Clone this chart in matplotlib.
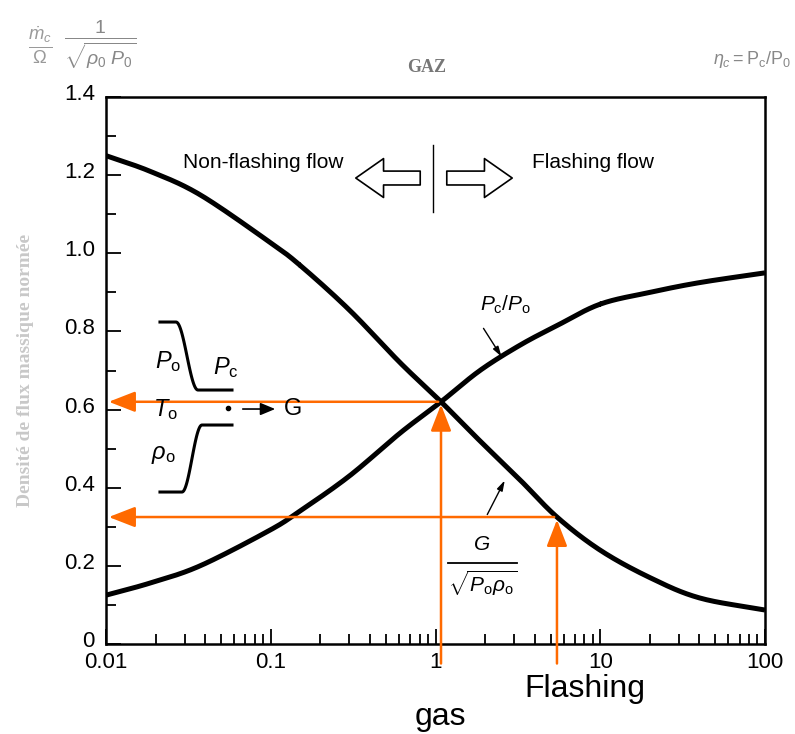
import numpy as np
import matplotlib
matplotlib.use("Agg")
import matplotlib.pyplot as plt
import matplotlib.transforms as mtransforms
from matplotlib.ticker import FixedLocator, NullFormatter

plt.rcParams['font.family'] = ['Liberation Sans', 'DejaVu Sans']
plt.rcParams['mathtext.fontset'] = 'custom'
plt.rcParams['mathtext.rm'] = 'Liberation Sans'
plt.rcParams['mathtext.it'] = 'Liberation Sans:italic'

# pressure ratio axis (log) and the two normalised curves
x_vals = [0.01, 0.0185, 0.0372, 0.0975, 0.15, 0.30, 0.61, 1.08, 1.86, 3.26, 5.46, 10, 20, 40, 100]
g_flux = [1.25, 1.21, 1.15, 1.03, 0.97, 0.855, 0.72, 0.62, 0.52, 0.42, 0.325, 0.24, 0.17, 0.118, 0.087]
pc_ratio = [0.125, 0.156, 0.20, 0.29, 0.34, 0.43, 0.54, 0.62, 0.70, 0.765, 0.815, 0.87, 0.90, 0.925, 0.95]

# orange read-off points: (x, y) for the gas case and the flashing case
gas_pt = (1.08, 0.62)
flash_pt = (5.46, 0.325)

x_ticks = [0.01, 0.1, 1, 10, 100]
x_ticklabels = ['0.01', '0.1', '1', '10', '100']
y_ticks = [0, 0.2, 0.4, 0.6, 0.8, 1.0, 1.2, 1.4]
y_ticklabels = ['0', '0.2', '0.4', '0.6', '0.8', '1.0', '1.2', '1.4']

orange = '#ff6a00'
gray = '#9a9a9a'

fig = plt.figure(figsize=(7.95, 7.34), dpi=100)
ax = fig.add_axes([0.1333, 0.1226, 0.829, 0.7452])


def smooth(xs, ys, n=400):
    # Catmull-Rom through the read points, in log-x, only to round the drawn line
    lx = np.log10(xs)
    ys = np.asarray(ys, float)
    P = np.column_stack([lx, ys])
    P = np.vstack([2 * P[0] - P[1], P, 2 * P[-1] - P[-2]])
    out = []
    for i in range(1, len(P) - 2):
        t = np.linspace(0, 1, n // len(xs))[:, None]
        p0, p1, p2, p3 = P[i - 1], P[i], P[i + 1], P[i + 2]
        out.append(0.5 * ((2 * p1) + (-p0 + p2) * t + (2 * p0 - 5 * p1 + 4 * p2 - p3) * t ** 2
                          + (-p0 + 3 * p1 - 3 * p2 + p3) * t ** 3))
    out = np.vstack(out)
    return 10 ** out[:, 0], out[:, 1]


for series in (g_flux, pc_ratio):
    sx, sy = smooth(x_vals, series)
    ax.plot(sx, sy, color='black', lw=3.6, solid_capstyle='butt')

ax.set_xscale('log')
ax.set_xlim(0.01, 100)
ax.set_ylim(0, 1.4)
ax.xaxis.set_major_locator(FixedLocator(x_ticks))
ax.set_xticklabels(x_ticklabels)
ax.xaxis.set_minor_locator(FixedLocator([m * 10.0 ** e for e in range(-2, 2) for m in range(2, 10)]))
ax.xaxis.set_minor_formatter(NullFormatter())
ax.set_yticks(y_ticks)
ax.set_yticklabels(y_ticklabels)
ax.yaxis.set_minor_locator(FixedLocator(np.arange(0.1, 1.4, 0.2)))
ax.tick_params(which='both', direction='in', top=False, right=False, width=1.3, labelsize=16)
ax.tick_params(axis='x', which='major', length=11, pad=6)
ax.tick_params(axis='y', which='major', length=11, pad=8)
ax.tick_params(which='minor', length=7)
for s in ax.spines.values():
    s.set_linewidth(1.8)
# y labels sit a little above their ticks in the scan
shift_up = mtransforms.ScaledTranslation(0, 5 / 100, fig.dpi_scale_trans)
for lab in ax.get_yticklabels():
    lab.set_transform(lab.get_transform() + shift_up)

# orange read-off arrows
arrow_kw = dict(arrowstyle='-|>,head_length=0.9,head_width=0.35', color=orange, lw=1.8, mutation_scale=18)
for (xp, yp) in (gas_pt, flash_pt):
    ax.annotate('', xy=(0.01, yp), xytext=(xp, yp), arrowprops=arrow_kw, annotation_clip=False)
    ax.annotate('', xy=(xp, yp), xycoords='data', xytext=(xp, -0.057), textcoords='data',
                arrowprops=arrow_kw, annotation_clip=False)


def px(x, y):
    # pixel position in the figure -> axes fraction
    return (x - 106) / 659.0, (644 - y) / 547.0


T = ax.transAxes

# flow regime divider and hollow arrows
ax.plot(*zip(px(433, 145), px(433, 212)), color='black', lw=1.0, transform=T)
hollow = dict(arrowstyle='simple,head_length=1.0,head_width=1.4,tail_width=0.5', fc='white', ec='black', lw=1.2, mutation_scale=20)
ax.annotate('', xy=px(353, 178), xytext=px(423, 178), xycoords=T, textcoords=T, arrowprops=hollow)
ax.annotate('', xy=px(515, 178), xytext=px(444, 178), xycoords=T, textcoords=T, arrowprops=hollow)
ax.text(*px(263, 162), 'Non-flashing flow', transform=T, fontsize=15, ha='center', va='center')
ax.text(*px(593, 162), 'Flashing flow', transform=T, fontsize=15, ha='center', va='center')

# nozzle sketch
t = np.linspace(0, 1, 40)
s = 0.5 - 0.5 * np.cos(np.pi * t)
up_x = np.concatenate([[160], 176 + 22 * t, [232]])
up_y = np.concatenate([[322], 322 + 68 * s, [390]])
lo_x = np.concatenate([[232], 202 - 20 * t, [160]])
lo_y = np.concatenate([[425], 425 + 67 * s, [492]])
for xs, ys in ((up_x, up_y), (lo_x, lo_y)):
    pts = [px(a, b) for a, b in zip(xs, ys)]
    ax.plot([p[0] for p in pts], [p[1] for p in pts], color='black', lw=2.2, transform=T)
ax.text(*px(168, 362), r'$P_\mathrm{o}$', transform=T, fontsize=17, ha='center', va='center')
ax.text(*px(226, 368), r'$P_\mathrm{c}$', transform=T, fontsize=17, ha='center', va='center')
ax.text(*px(166, 410), r'$T_\mathrm{o}$', transform=T, fontsize=17, ha='center', va='center')
ax.text(*px(163, 455), r'$\rho_\mathrm{o}$', transform=T, fontsize=17, ha='center', va='center')
ax.plot(*px(228, 408), marker='o', ms=3, color='black', transform=T)
ax.annotate('', xy=px(278, 409), xytext=px(240, 409), xycoords=T, textcoords=T,
            arrowprops=dict(arrowstyle='-|>,head_length=0.6,head_width=0.25', color='black', lw=1.2, mutation_scale=15))
ax.text(*px(293, 409), 'G', transform=T, fontsize=17, ha='center', va='center')

# curve labels with pointer arrows
ptr = dict(arrowstyle='-|>,head_length=0.5,head_width=0.15', color='black', lw=1.0, mutation_scale=12)
ax.text(*px(505, 305), r'$P_\mathrm{c}/P_\mathrm{o}$', transform=T, fontsize=15, ha='center', va='center')
ax.annotate('', xy=px(503, 359), xytext=px(482, 326), xycoords=T, textcoords=T, arrowprops=ptr)
ax.text(*px(482, 544), r'$G$', transform=T, fontsize=15, ha='center', va='center')
ax.plot(*zip(px(448, 563), px(517, 563)), color='black', lw=1.3, transform=T)
ax.text(*px(483, 583), r'$\sqrt{P_\mathrm{o}\rho_\mathrm{o}}$', transform=T, fontsize=15, ha='center', va='center')
ax.annotate('', xy=px(506, 478), xytext=px(486, 517), xycoords=T, textcoords=T, arrowprops=ptr)

# faint scanned captions
fig.text(26 / 795, 1 - 370 / 734, 'Densité de flux massique normée', rotation=90, color=gray,
         fontsize=14, family='Liberation Serif', weight='bold', ha='center', va='center', alpha=0.55)
fig.text(40 / 795, 1 - 45 / 734, r'$\frac{\dot{m}_c}{\Omega}$', color=gray, fontsize=19, ha='center', va='center')
fig.text(100 / 795, 1 - 45 / 734, r'$\frac{1}{\sqrt{\rho_0\ P_0}}$', color='#888888', fontsize=20, ha='center', va='center')
fig.text(427 / 795, 1 - 68 / 734, 'GAZ', color='#777777', fontsize=13, family='Liberation Serif',
         weight='bold', ha='center', va='center')
fig.text(752 / 795, 1 - 60 / 734, r'$\eta_c = \mathrm{P_c/P_0}$', color='#888888', fontsize=13, ha='center', va='center')

# bottom labels
fig.text(440 / 795, 1 - 717 / 734, 'gas', fontsize=23, ha='center', va='center')
fig.text(585 / 795, 1 - 689 / 734, 'Flashing', fontsize=23, ha='center', va='center')

fig.savefig('out.png', dpi=100)
